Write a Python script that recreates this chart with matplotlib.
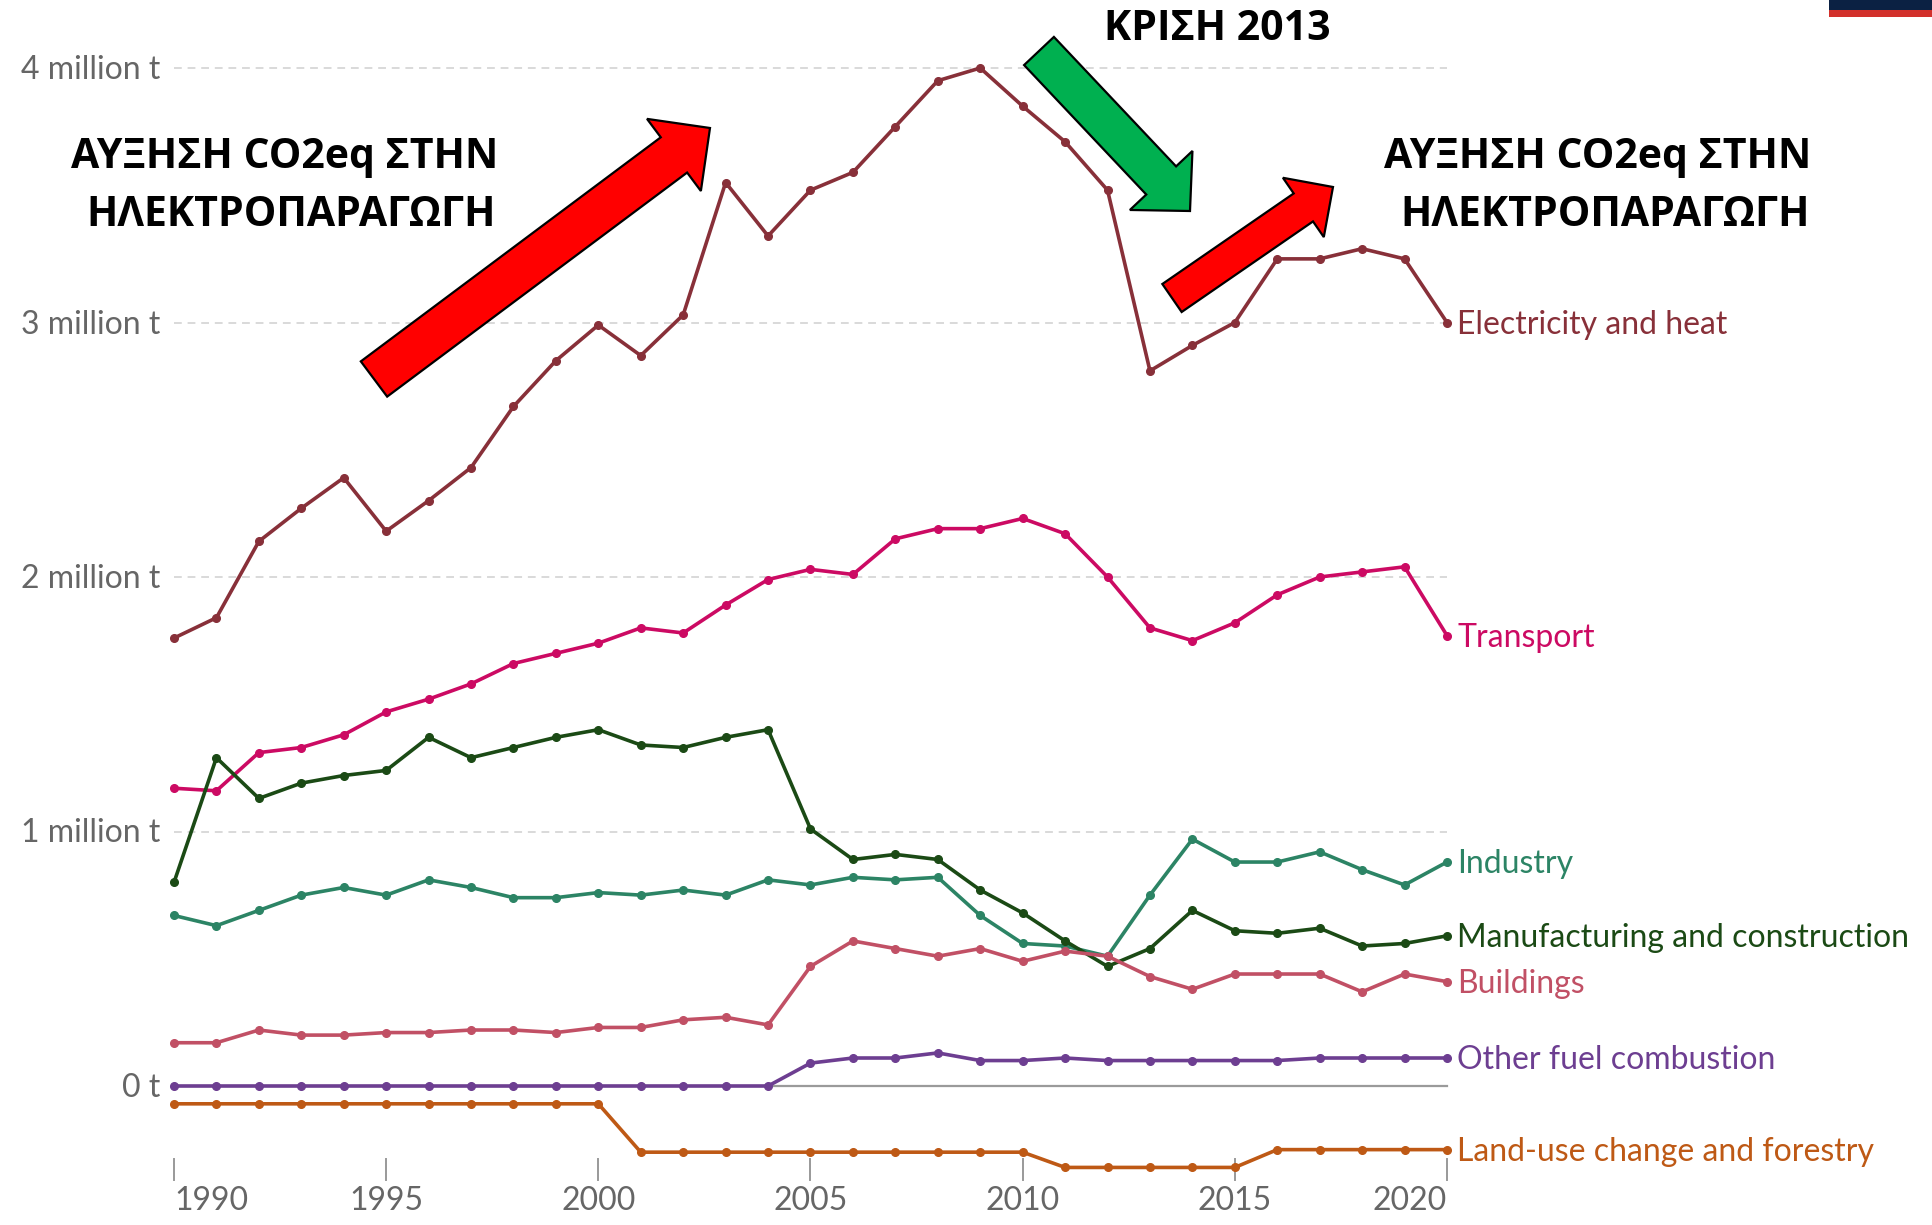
import numpy as np
import matplotlib
import matplotlib.pyplot as plt
from matplotlib.patches import Polygon, Rectangle

matplotlib.use('Agg')

# anni
years = list(range(1990, 2021))

# emissioni in milioni di tonnellate CO2eq
electricity = [1.76, 1.84, 2.14, 2.27, 2.39, 2.18, 2.30, 2.43, 2.67, 2.85, 2.99,
               2.87, 3.03, 3.55, 3.34, 3.52, 3.59, 3.77, 3.95, 4.00, 3.85,
               3.71, 3.52, 2.81, 2.91, 3.00, 3.25, 3.25, 3.29, 3.25, 3.00]
transport = [1.17, 1.16, 1.31, 1.33, 1.38, 1.47, 1.52, 1.58, 1.66, 1.70, 1.74,
             1.80, 1.78, 1.89, 1.99, 2.03, 2.01, 2.15, 2.19, 2.19, 2.23,
             2.17, 2.00, 1.80, 1.75, 1.82, 1.93, 2.00, 2.02, 2.04, 1.77]
industry = [0.67, 0.63, 0.69, 0.75, 0.78, 0.75, 0.81, 0.78, 0.74, 0.74, 0.76,
            0.75, 0.77, 0.75, 0.81, 0.79, 0.82, 0.81, 0.82, 0.67, 0.56,
            0.55, 0.51, 0.75, 0.97, 0.88, 0.88, 0.92, 0.85, 0.79, 0.88]
manufacturing = [0.80, 1.29, 1.13, 1.19, 1.22, 1.24, 1.37, 1.29, 1.33, 1.37, 1.40,
                 1.34, 1.33, 1.37, 1.40, 1.01, 0.89, 0.91, 0.89, 0.77, 0.68,
                 0.57, 0.47, 0.54, 0.69, 0.61, 0.60, 0.62, 0.55, 0.56, 0.59]
buildings = [0.17, 0.17, 0.22, 0.20, 0.20, 0.21, 0.21, 0.22, 0.22, 0.21, 0.23,
             0.23, 0.26, 0.27, 0.24, 0.47, 0.57, 0.54, 0.51, 0.54, 0.49,
             0.53, 0.51, 0.43, 0.38, 0.44, 0.44, 0.44, 0.37, 0.44, 0.41]
other_fuel = [0.0] * 15 + [0.09, 0.11, 0.11, 0.13, 0.10, 0.10,
                           0.11, 0.10, 0.10, 0.10, 0.10, 0.10, 0.11, 0.11, 0.11, 0.11]
land_use = [-0.07] * 11 + [-0.26] * 10 + [-0.32] * 5 + [-0.25] * 5

serie = [
    ("Electricity and heat", electricity, "#883039"),
    ("Transport", transport, "#cc0a63"),
    ("Industry", industry, "#2c8465"),
    ("Manufacturing and construction", manufacturing, "#1b4a15"),
    ("Buildings", buildings, "#c15065"),
    ("Other fuel combustion", other_fuel, "#6d3e91"),
    ("Land-use change and forestry", land_use, "#be5915"),
]

y_ticks = [0, 1, 2, 3, 4]
y_labels = ["0 t", "1 million t", "2 million t", "3 million t", "4 million t"]
x_ticks = [1990, 1995, 2000, 2005, 2010, 2015, 2020]

W, H = 1933, 1225
fig = plt.figure(figsize=(W / 100, H / 100), dpi=100)
ax = fig.add_axes([0, 0, 1, 1])
ax.axis('off')

# 1990 a 174 px, 2020 a 1447 px ; 0 a 1086 px, 4 a 68 px
px_anno = (1447 - 174) / 30
px_val = (1086 - 68) / 4
ax.set_xlim(1990 - 174 / px_anno, 1990 + (W - 174) / px_anno)
ax.set_ylim(-(H - 1086) / px_val, 4 + 68 / px_val)

lato = ['Lato', 'DejaVu Sans']
grigio = "#666666"

# griglia
for v in y_ticks[1:]:
    ax.plot([1990, 2020], [v, v], color="#d9d9d9", lw=1.4, ls=(0, (4, 3)), zorder=1)
ax.plot([1990, 2020], [0, 0], color="#9a9a9a", lw=1.6, zorder=1)

for v, lab in zip(y_ticks, y_labels):
    ax.text(1990 - 14 / px_anno, v - 2 / px_val, lab, ha='right', va='center',
            fontsize=23, color=grigio, family=lato)

for i, yr in enumerate(x_ticks):
    ax.plot([yr, yr], [-73 / px_val, -94 / px_val], color="#999999", lw=1.4)
    ha = 'left' if i == 0 else ('right' if i == len(x_ticks) - 1 else 'center')
    ax.text(yr, -115 / px_val, str(yr), ha=ha, va='center',
            fontsize=23, color=grigio, family=lato)

for nome, valori, colore in serie:
    ax.plot(years, valori, color=colore, lw=2.6, marker='o', ms=5.5,
            clip_on=False, zorder=3)
    ax.text(2020 + 10 / px_anno, valori[-1] - 2 / px_val, nome, ha='left', va='center',
            fontsize=23, color=colore, family=lato)


# frecce (coordinate in pixel)
def fig_xy(px, py):
    return px / W, 1 - py / H


def freccia(tail, tip, w, hw, hl, colore):
    t = np.array(tail, float)
    p = np.array(tip, float)
    u = (p - t) / np.linalg.norm(p - t)
    n = np.array([-u[1], u[0]])
    b = p - hl * u
    pts = [t + n * w / 2, b + n * w / 2, b + n * hw / 2, p,
           b - n * hw / 2, b - n * w / 2, t - n * w / 2]
    pts = [fig_xy(*q) for q in pts]
    fig.patches.append(Polygon(pts, closed=True, facecolor=colore, edgecolor='black',
                               lw=1.6, transform=fig.transFigure, zorder=5))


freccia((374, 379), (710, 128), 44, 90, 45, "#ff0000")
freccia((1039, 51), (1190, 211), 41, 86, 42, "#00b050")
freccia((1172, 298), (1333, 187), 34, 72, 36, "#ff0000")

greco = ['Open Sans', 'DejaVu Sans']
testi = [
    ("ΑΥΞΗΣΗ CO2eq ΣΤΗΝ", 285, 158),
    ("ΗΛΕΚΤΡΟΠΑΡΑΓΩΓΗ", 291, 215),
    ("ΑΥΞΗΣΗ CO2eq ΣΤΗΝ", 1598, 158),
    ("ΗΛΕΚΤΡΟΠΑΡΑΓΩΓΗ", 1605, 215),
    ("ΚΡΙΣΗ 2013", 1217, 29),
]
for s, px, py in testi:
    fx, fy = fig_xy(px, py)
    fig.text(fx, fy, s, ha='center', va='center', fontsize=29.5, fontweight='bold',
             family=greco, color='black')

# striscia in alto a destra
fig.patches.append(Rectangle(fig_xy(1829, 10), (W - 1829) / W, 10 / H,
                             facecolor="#0b2143", edgecolor='none', transform=fig.transFigure))
fig.patches.append(Rectangle(fig_xy(1829, 17), (W - 1829) / W, 7 / H,
                             facecolor="#d2302b", edgecolor='none', transform=fig.transFigure))

fig.savefig("out.png", dpi=100, facecolor='white')
